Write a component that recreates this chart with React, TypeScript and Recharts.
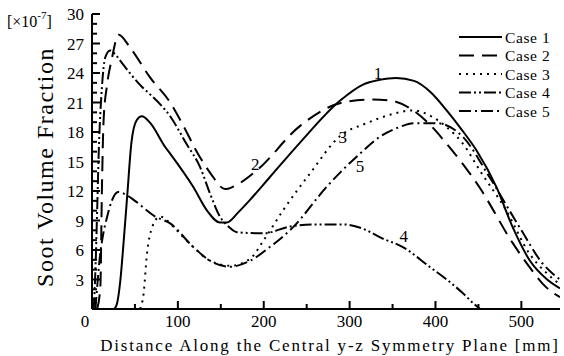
import { LineChart, Line, XAxis, YAxis, ReferenceDot } from "recharts";

const X_MAX = 545;
const FONT = "'Liberation Serif', 'Times New Roman', serif";

// [distance mm, soot volume fraction x1e-7]
const case1: [number, number][] = [
  [26, 0], [29, 0.5], [33, 2.9], [37, 7], [41, 11.5], [46, 17], [52, 19.2], [58, 19.6], [68, 18.9],
  [85, 16.5], [91, 15.8], [118, 12.4], [134, 10], [149, 8.8], [157, 8.8], [170, 9.8], [184, 11.1],
  [207, 13.4], [242, 16.9], [289, 21.2], [315, 22.8], [335, 23.3], [354, 23.5], [375, 23.2],
  [395, 22], [413, 20.2], [430, 18.3], [448, 16.1], [471, 12.4], [490, 8.3], [510, 4.9], [530, 3], [545, 2.1],
];
const case2: [number, number][] = [
  [6, 0], [9.7, 2.2], [11.6, 12.4], [13.5, 19.2], [17.4, 22.7], [23, 25.4], [31, 27.9], [45, 26.5],
  [68, 23.5], [91, 21], [106, 18.7], [122, 16], [138, 13.8], [155, 12.2], [168, 12.6], [192, 14.1],
  [242, 18.6], [292, 21], [327, 21.3], [347, 21.2], [374, 20.2], [394, 18.7], [413, 16.8], [451, 12.4],
  [490, 6.7], [510, 4.2], [529, 2.2], [545, 1.2],
];
const case3: [number, number][] = [
  [56, 0], [60, 1.5], [64, 5.6], [70, 8.3], [79, 9.4], [85, 9.2], [91, 8.7], [118, 6.3], [137.6, 4.9],
  [161, 4.4], [184, 5.1], [200, 7], [223, 10.1], [254, 13.8], [289, 17.6], [320, 18.9], [345, 19.7],
  [374, 20.2], [395, 19.6], [413, 18.5], [432, 16.8], [451.5, 14.1], [482.5, 10], [509.6, 5.6],
  [530, 3.6], [545, 2.5],
];
const case4: [number, number][] = [
  [2, 0], [4, 4], [6, 10], [7.8, 15.8], [11.6, 22.6], [15.5, 25.6], [21, 26.3], [28, 25.8], [35, 25],
  [58, 22.6], [68, 21.8], [91, 19.6], [110, 16.8], [126, 14.4], [137.6, 11.7], [149, 9.4], [160, 8.3],
  [169, 7.8], [200, 7.7], [231, 8.4], [260, 8.6], [292, 8.6], [320, 8], [335, 7.3], [362, 6.3],
  [393, 4.3], [413, 3], [432, 1.6], [445, 0.5], [452, 0],
];
const case5: [number, number][] = [
  [4, 0], [9.7, 5.7], [13, 7.6], [17.4, 9.3], [23, 11], [30.6, 11.9], [40, 11.6], [50, 11], [73.6, 9.4],
  [91, 8.7], [118, 6.3], [137.6, 4.9], [161, 4.3], [184, 4.9], [207, 6.3], [234, 8.3], [273, 12.4],
  [312, 15.8], [335, 17.5], [358, 18.5], [374, 18.9], [401, 18.9], [432, 17.5], [463, 13.4], [498, 8.3],
  [525, 4.6], [545, 3],
];

const caseNames = ["Case 1", "Case 2", "Case 3", "Case 4", "Case 5"];
const caseDash = ["", "15 8", "2 5", "12 3 2 3 2 3", "12 4 2 4"];
const curveLabels: [string, number, number][] = [
  ["1", 333, 24.0],
  ["2", 190, 14.8],
  ["3", 292, 17.5],
  ["5", 312, 14.5],
  ["4", 363, 7.4],
];

const xTicks = [0, 50, 100, 150, 200, 250, 300, 350, 400, 450, 500];
const yTicks = [0, 1, 2, 3, 4, 5, 6, 7, 8, 9, 10, 11, 12, 13, 14, 15, 16, 17, 18, 19, 20, 21, 22, 23, 24, 25, 26, 27, 28, 29, 30];

const series = [case1, case2, case3, case4, case5].map((pts) => pts.map(([x, y]) => ({ x, y })));

const BottomTick = ({ x, y, payload }: any) => {
  const v = payload.value;
  const major = v % 100 === 0;
  return (
    <g>
      <line x1={x} y1={y} x2={x} y2={y - (major ? 8 : 5)} stroke="#000" strokeWidth={2} />
      {major && (
        <text x={x + (v === 0 ? -7 : 0)} y={y + 17.5} textAnchor="middle" fontFamily={FONT} fontSize={17} fill="#000">
          {v}
        </text>
      )}
    </g>
  );
};

const TopTick = ({ x, y, payload }: any) => {
  const major = payload.value % 100 === 0;
  return <line x1={x} y1={y} x2={x} y2={y + (major ? 8 : 5)} stroke="#000" strokeWidth={2} />;
};

const LeftTick = ({ x, y, payload }: any) => {
  const v = payload.value;
  const major = v % 3 === 0;
  return (
    <g>
      <line x1={x} y1={y} x2={x + (major ? 8 : 5)} y2={y} stroke="#000" strokeWidth={2} />
      {major && v !== 0 && (
        <text x={x - 8} y={y + 6} textAnchor="end" fontFamily={FONT} fontSize={17} fill="#000">
          {v}
        </text>
      )}
    </g>
  );
};

const RightTick = ({ x, y, payload }: any) => {
  const major = payload.value % 3 === 0;
  return <line x1={x} y1={y} x2={x - (major ? 7 : 5)} y2={y} stroke="#000" strokeWidth={2} />;
};

const axisLine = { stroke: "#000", strokeWidth: 2 };
const legendRows = [37, 55.5, 74, 92.5, 111];

export default function App() {
  return (
    <div style={{ position: "absolute", left: 0, top: 0, width: 564, height: 356, background: "#fff" }}>
      <LineChart width={564} height={356} margin={{ top: 14, right: 4, bottom: 0, left: 0 }}>
        <XAxis
          type="number"
          dataKey="x"
          domain={[0, X_MAX]}
          ticks={xTicks}
          interval={0}
          allowDataOverflow
          height={47}
          tickSize={0}
          tickMargin={0}
          tickLine={false}
          axisLine={axisLine}
          tick={BottomTick}
        />
        <XAxis
          xAxisId="top"
          orientation="top"
          type="number"
          dataKey="x"
          domain={[0, X_MAX]}
          ticks={xTicks}
          interval={0}
          allowDataOverflow
          height={0}
          tickSize={0}
          tickMargin={0}
          tickLine={false}
          axisLine={axisLine}
          tick={TopTick}
        />
        <YAxis
          type="number"
          domain={[0, 30]}
          ticks={yTicks}
          interval={0}
          allowDataOverflow
          width={92}
          tickSize={0}
          tickMargin={0}
          tickLine={false}
          axisLine={axisLine}
          tick={LeftTick}
        />
        <YAxis
          yAxisId="right"
          orientation="right"
          type="number"
          domain={[0, 30]}
          ticks={yTicks}
          interval={0}
          allowDataOverflow
          width={0}
          tickSize={0}
          tickMargin={0}
          tickLine={false}
          axisLine={axisLine}
          tick={RightTick}
        />
        {series.map((data, i) => (
          <Line
            key={caseNames[i]}
            data={data}
            dataKey="y"
            type="monotone"
            stroke="#000"
            strokeWidth={2}
            strokeDasharray={caseDash[i] || undefined}
            dot={false}
            activeDot={false}
            isAnimationActive={false}
          />
        ))}
        {curveLabels.map(([t, x, y]) => (
          <ReferenceDot
            key={t}
            x={x}
            y={y}
            r={0}
            fill="none"
            stroke="none"
            label={{ value: t, position: "center", fontFamily: FONT, fontSize: 17, fill: "#000" }}
          />
        ))}
      </LineChart>
      <svg width={564} height={356} style={{ position: "absolute", left: 0, top: 0, pointerEvents: "none" }}>
        <text x={7} y={27} fontFamily={FONT} fontSize={16} fill="#000">
          [×10<tspan fontSize={11} dy={-8}>-7</tspan>
          <tspan dy={8}>]</tspan>
        </text>
        <text
          transform="translate(53,167) rotate(-90)"
          textAnchor="middle"
          fontFamily={FONT}
          fontSize={24}
          letterSpacing={1.5}
          fill="#000"
        >
          Soot Volume Fraction
        </text>
        <text x={330} y={351} textAnchor="middle" fontFamily={FONT} fontSize={17} letterSpacing={1.8} fill="#000">
          Distance Along the Central y-z Symmetry Plane [mm]
        </text>
        {caseNames.map((name, i) => (
          <g key={name}>
            <line
              x1={459}
              y1={legendRows[i]}
              x2={502}
              y2={legendRows[i]}
              stroke="#000"
              strokeWidth={2}
              strokeDasharray={caseDash[i] || undefined}
            />
            <text x={505} y={legendRows[i] + 5.5} fontFamily={FONT} fontSize={15.5} letterSpacing={0.6} fill="#000">
              {name}
            </text>
          </g>
        ))}
      </svg>
    </div>
  );
}
